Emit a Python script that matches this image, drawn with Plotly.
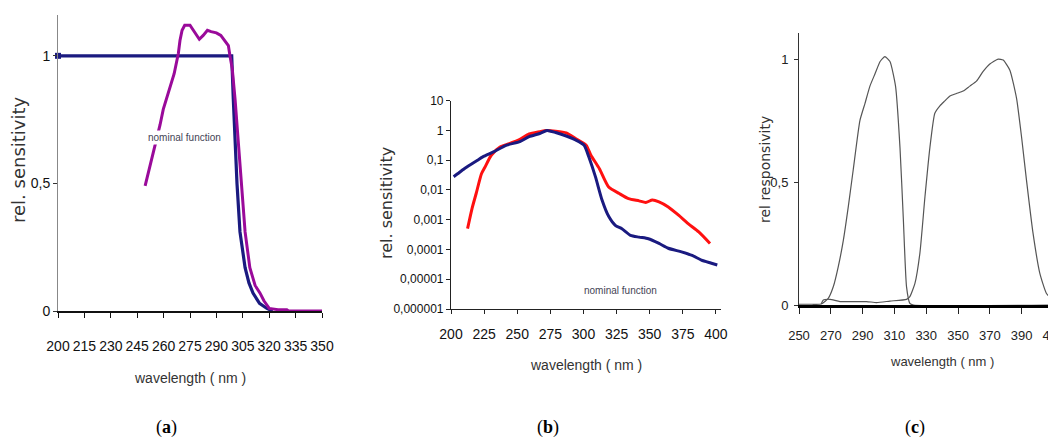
import plotly.graph_objects as go

# The page body keeps an 8px margin, so the figure is drawn 8px in from the top-left
PAGE_W, PAGE_H, OFF = 1056, 437, 8
W, H = PAGE_W - OFF, PAGE_H - OFF

# ---------------- data ----------------
# Panel (a): linear sensitivity
a_blue_wl = [200, 250, 298.7, 299.6, 301.7, 303.4, 306.3, 308.5, 310.8, 314.5, 318.7, 322]
a_blue_val = [1.0, 1.0, 1.0, 0.83, 0.50, 0.31, 0.17, 0.11, 0.07, 0.03, 0.01, 0.0]

a_purple_wl = [249.5, 252, 255, 258, 259.8, 262, 263.6, 266, 268.4, 269.3, 270.5, 272, 275,
               277, 280.3, 282.5, 284.9, 287, 290, 292.5, 294.9, 296.8, 297.7, 299, 300.6,
               303.4, 306.3, 309, 312, 314.8, 317, 320, 325, 330, 331, 350]
a_purple_val = [0.49, 0.56, 0.64, 0.73, 0.79, 0.84, 0.87, 0.93, 1.01, 1.06, 1.10, 1.12, 1.12,
                1.10, 1.065, 1.08, 1.10, 1.095, 1.09, 1.08, 1.06, 1.04, 1.0, 0.95, 0.83,
                0.56, 0.31, 0.17, 0.10, 0.07, 0.04, 0.01, 0.005, 0.005, 0.0, 0.0]

a_xticks = [200, 215, 230, 245, 260, 275, 290, 305, 320, 335, 350]
a_yticks = [0, 0.5, 1]
a_yticktext = ["0", "0,5", "1"]

# Panel (b): log sensitivity
b_blue_wl = [202, 205, 210, 214, 220, 224, 232, 242, 252, 259, 267, 272.5, 279, 287, 294,
             300.5, 304, 309, 314, 319, 324, 329, 335.5, 342, 349, 357, 364, 374, 382, 389,
             396, 401]
b_blue_val = [0.028, 0.035, 0.052, 0.068, 0.1, 0.13, 0.19, 0.32, 0.42, 0.62, 0.79, 1.0, 0.85,
              0.65, 0.48, 0.32, 0.13, 0.028, 0.0046, 0.0013, 0.00065, 0.0005, 0.0003,
              0.00026, 0.00023, 0.00016, 0.00011, 0.000083, 0.000063, 0.000044, 0.000035,
              0.00003]

b_red_wl = [212.5, 216, 219, 223, 225.5, 230.5, 237, 244, 252, 259, 267, 272, 279, 287, 294,
            302, 305.5, 312, 319, 327, 334, 342, 347, 352, 357, 364, 372, 379, 387, 395.5]
b_red_val = [0.0005, 0.0025, 0.0076, 0.035, 0.057, 0.15, 0.28, 0.36, 0.5, 0.76, 0.91, 1.0,
             0.95, 0.83, 0.54, 0.32, 0.15, 0.052, 0.0126, 0.0076, 0.0051, 0.0043, 0.0038,
             0.0046, 0.004, 0.0027, 0.0014, 0.00074, 0.00039, 0.00016]

b_xticks = [200, 225, 250, 275, 300, 325, 350, 375, 400]
b_yticks = [0.000001, 0.00001, 0.0001, 0.001, 0.01, 0.1, 1, 10]
b_yticktext = ["0,000001", "0,00001", "0,0001", "0,001", "0,01", "0,1", "1", "10"]

# Panel (c): two responsivity curves
c_uvb_wl = [250, 258, 264, 268.4, 271.6, 274.7, 277.9, 281, 284.1, 288.3, 291.5, 294.6,
            297.8, 301, 304, 307.2, 310.7, 313.5, 315.6, 317.6, 319.7, 322, 412]
c_uvb_val = [0.003, 0.003, 0.004, 0.027, 0.075, 0.156, 0.264, 0.40, 0.55, 0.75, 0.82, 0.89,
             0.94, 0.99, 1.01, 0.99, 0.89, 0.64, 0.35, 0.075, 0.007, 0.0, 0.0]

c_uva_wl = [264, 265.3, 269.5, 275.8, 292.5, 298.8, 307.2, 317.6, 319.7, 322.9, 326, 329.2,
            332.3, 335.4, 338.6, 341.7, 344.9, 349, 353.2, 357.4, 361.6, 365.8, 370, 375.2,
            378.4, 382.6, 386.8, 390, 393, 397.2, 401.4, 405.6, 409.8, 413]
c_uva_val = [0.005, 0.02, 0.023, 0.014, 0.014, 0.01, 0.016, 0.023, 0.034, 0.088, 0.21, 0.44,
             0.64, 0.78, 0.81, 0.83, 0.85, 0.86, 0.87, 0.89, 0.91, 0.95, 0.98, 1.0, 0.996,
             0.955, 0.84, 0.68, 0.51, 0.29, 0.13, 0.047, 0.02, 0.005]

c_xticks = [250, 270, 290, 310, 330, 350, 370, 390, 410]
c_yticks = [0, 0.5, 1]
c_yticktext = ["0", "0,5", "1"]

captions = ["(<b>a</b>)", "(<b>b</b>)", "(<b>c</b>)"]

# ---------------- helpers (page pixels -> paper fraction) ----------------
def px(x):
    return (x - OFF) / W


def py(y):
    return 1 - (y - OFF) / H


SANS = "Liberation Sans, Arial, sans-serif"
WIDE = "DejaVu Sans, Liberation Sans, sans-serif"
tickfont = dict(family=SANS, size=14, color="#111")

fig = go.Figure()

# panel a
fig.add_trace(go.Scatter(x=a_blue_wl, y=a_blue_val, mode="lines", xaxis="x", yaxis="y",
                         line=dict(color="#1a1a80", width=3.2), showlegend=False))
fig.add_trace(go.Scatter(x=[a_blue_wl[0]], y=[a_blue_val[0]], mode="markers", xaxis="x", yaxis="y",
                         marker=dict(color="#1a1a80", size=6, symbol="square"), showlegend=False,
                         cliponaxis=False))
fig.add_trace(go.Scatter(x=a_purple_wl, y=a_purple_val, mode="lines", xaxis="x", yaxis="y",
                         line=dict(color="#9a0a9a", width=3), showlegend=False))

# panel b
fig.add_trace(go.Scatter(x=b_red_wl, y=b_red_val, mode="lines", xaxis="x2", yaxis="y2",
                         line=dict(color="#ff1010", width=3, shape="spline", smoothing=0.6),
                         showlegend=False))
fig.add_trace(go.Scatter(x=b_blue_wl, y=b_blue_val, mode="lines", xaxis="x2", yaxis="y2",
                         line=dict(color="#1a1a80", width=3, shape="spline", smoothing=0.6),
                         showlegend=False))

# panel c
fig.add_trace(go.Scatter(x=c_uvb_wl, y=c_uvb_val, mode="lines", xaxis="x3", yaxis="y3",
                         line=dict(color="#555", width=1.2, shape="spline", smoothing=0.5),
                         showlegend=False))
fig.add_trace(go.Scatter(x=c_uva_wl, y=c_uva_val, mode="lines", xaxis="x3", yaxis="y3",
                         line=dict(color="#555", width=1.2, shape="spline", smoothing=0.5),
                         showlegend=False))

common_x = dict(showgrid=False, zeroline=False, showline=True, ticks="outside",
                tickfont=tickfont, fixedrange=True, automargin=False, tickangle=0)
common_y = dict(showgrid=False, zeroline=False, showline=True, ticks="outside",
                tickfont=tickfont, fixedrange=True, automargin=False)

fig.update_layout(
    width=W, height=H, margin=dict(l=0, r=0, t=0, b=0),
    paper_bgcolor="white", plot_bgcolor="white",
    xaxis=dict(common_x, domain=[px(58), px(322)], range=[200, 350], anchor="y",
               tickmode="array", tickvals=a_xticks, linecolor="#111", linewidth=1.5,
               tickcolor="#111", ticklen=5, ticklabelstandoff=16),
    yaxis=dict(common_y, domain=[py(311), py(15)], range=[0, 1.16], anchor="x",
               tickmode="array", tickvals=a_yticks, ticktext=a_yticktext,
               linecolor="#888", linewidth=1, tickcolor="#333", ticklen=4),
    xaxis2=dict(common_x, domain=[px(451), px(721)], range=[200, 403.8], anchor="y2",
                tickmode="array", tickvals=b_xticks, linecolor="#222", linewidth=1.2,
                tickcolor="#222", ticklen=4, ticklabelstandoff=8),
    yaxis2=dict(common_y, type="log", domain=[py(309), py(100.7)], range=[-6, 1], anchor="x2",
                tickmode="array", tickvals=b_yticks, ticktext=b_yticktext,
                tickfont=dict(family=SANS, size=12, color="#111"),
                linecolor="#222", linewidth=1.2, tickcolor="#222", ticklen=4),
    xaxis3=dict(common_x, domain=[px(799), 1.0], range=[250, 411.6], anchor="y3",
                tickmode="array", tickvals=c_xticks, linecolor="#000", linewidth=2.5,
                tickfont=dict(family=SANS, size=13, color="#222"),
                tickcolor="#222", ticklen=6, ticklabelstandoff=11,
                ticklabeloverflow="allow"),
    yaxis3=dict(common_y, domain=[py(305), py(33)], range=[0, 1.106], anchor="x3",
                tickmode="array", tickvals=c_yticks, ticktext=c_yticktext,
                tickfont=dict(family=SANS, size=13, color="#222"),
                linecolor="#333", linewidth=1, tickcolor="#333", ticklen=4,
                ticklabelstandoff=3),
)

ann = []
# axis titles
ann.append(dict(text="rel. sensitivity", x=px(18), y=py(160), textangle=-90,
                font=dict(family=WIDE, size=18, color="#333")))
ann.append(dict(text="wavelength ( nm )", x=px(190), y=py(378),
                font=dict(family=SANS, size=14, color="#333")))
ann.append(dict(text="rel. sensitivity", x=px(386), y=py(203), textangle=-90,
                font=dict(family=WIDE, size=16, color="#333")))
ann.append(dict(text="wavelength ( nm )", x=px(586), y=py(365),
                font=dict(family=SANS, size=14, color="#333")))
ann.append(dict(text="rel responsivity", x=px(765), y=py(170), textangle=-90,
                font=dict(family=WIDE, size=14, color="#333")))
ann.append(dict(text="wavelength ( nm )", x=px(942), y=py(361),
                font=dict(family=SANS, size=13, color="#333")))
# in-chart labels
ann.append(dict(text="nominal function", x=px(184), y=py(138), bgcolor="white",
                font=dict(family=SANS, size=10, color="#445")))
ann.append(dict(text="nominal function", x=px(620), y=py(290),
                font=dict(family=SANS, size=10, color="#445")))
# captions
for cap, cx in zip(captions, [166, 548, 915]):
    ann.append(dict(text=cap, x=px(cx), y=py(427),
                    font=dict(family="Liberation Serif, DejaVu Serif, serif", size=18, color="#000")))

for a in ann:
    a.update(xref="paper", yref="paper", showarrow=False, xanchor="center", yanchor="middle")
fig.update_layout(annotations=ann)

fig.write_html("out.html")
